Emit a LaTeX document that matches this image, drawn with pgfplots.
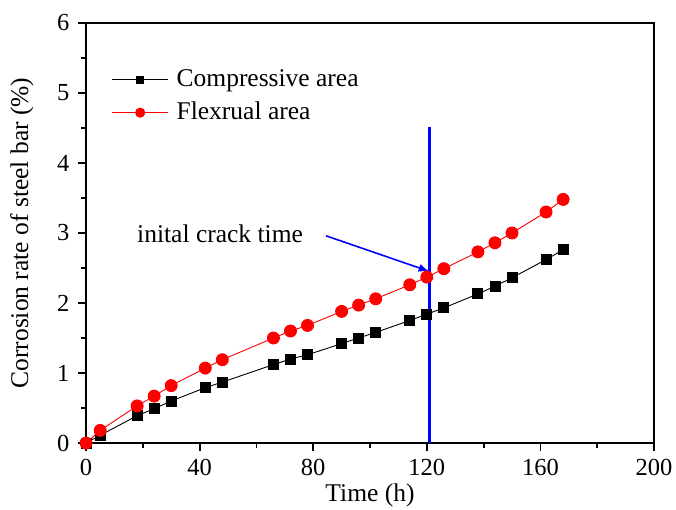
\documentclass[border=0pt]{standalone}
\usepackage{pgfplots}
\pgfplotsset{compat=1.18}
\usetikzlibrary{arrows.meta}
\usepackage{fontspec}
\setmainfont{Liberation Serif}
\begin{document}
\fontsize{25}{30}\selectfont
\begin{tikzpicture}
\useasboundingbox (-86pt,-66pt) rectangle (590pt,443pt);
\begin{axis}[
  scale only axis,
  width=568pt, height=420pt,
  xmin=0, xmax=200, ymin=0, ymax=6,
  xtick={0,40,...,200}, minor xtick={20,60,...,180},
  ytick={0,1,...,6}, minor ytick={0.5,1.5,...,5.5},
  axis line style={line width=1.8pt},
  every tick/.style={line width=1.8pt, black},
  major tick length=8pt, minor tick length=4.5pt,
  tick align=outside,
  xtick pos=bottom, ytick pos=left,
  /pgf/number format/assume math mode=true,
  tick label style={font=\fontsize{24.5}{28}\selectfont},
  xlabel={Time (h)},
  ylabel={Corrosion rate of steel bar (\%)},
  xlabel style={at={(axis description cs:0.5,0)}, anchor=center, yshift=-52pt},
  ylabel style={at={(axis description cs:-0.1127,0.5)}, anchor=center},
  label style={font=\fontsize{25.5}{30}\selectfont},
  legend style={at={(axis description cs:0.045,0.895)}, anchor=north west, draw=none, fill=none,
    font=\fontsize{25.5}{30}\selectfont, row sep=8pt, column sep=6pt, inner sep=0pt},
  legend cell align=left,
  legend image code/.code={\draw[mark repeat=2,mark phase=2,#1] plot coordinates {(0pt,0pt) (28pt,0pt) (56pt,0pt)};},
  clip=true,
]
\addplot[black, line width=0.9pt, mark=square*, mark size=5pt, mark options={solid},
  legend image post style={mark size=3.6pt}] coordinates {
(0,0) (5,0.11) (18,0.39) (24,0.49) (30,0.60) (42,0.79) (48,0.87) (66,1.12) (72,1.20) (78,1.26)
(90,1.42) (96,1.50) (102,1.58) (114,1.75) (120,1.84) (126,1.93) (138,2.13) (144,2.24) (150,2.36)
(162,2.62) (168,2.76)};
\addlegendentry{Compressive area}
\addplot[red, line width=0.9pt, mark=*, mark size=6pt, mark options={solid},
  legend image post style={mark size=4.6pt}] coordinates {
(0,0) (5,0.18) (18,0.53) (24,0.67) (30,0.82) (42,1.07) (48,1.19) (66,1.50) (72,1.60) (78,1.68)
(90,1.88) (96,1.97) (102,2.06) (114,2.26) (120,2.37) (126,2.49) (138,2.73) (144,2.86) (150,3.00)
(162,3.30) (168,3.48)};
\addlegendentry{Flexrual area}
\addplot[blue, line width=3.3pt, forget plot] coordinates {(121,0) (121,4.52)};
\draw[blue, line width=1.6pt, -{Latex[length=11pt,width=8pt]}] (axis cs:84.5,2.96) -- (axis cs:121,2.45);
\node[anchor=base west, inner sep=0pt, font=\fontsize{25.5}{30}\selectfont] at (axis cs:17.96,2.87) {inital crack time};
\end{axis}
\end{tikzpicture}
\end{document}
